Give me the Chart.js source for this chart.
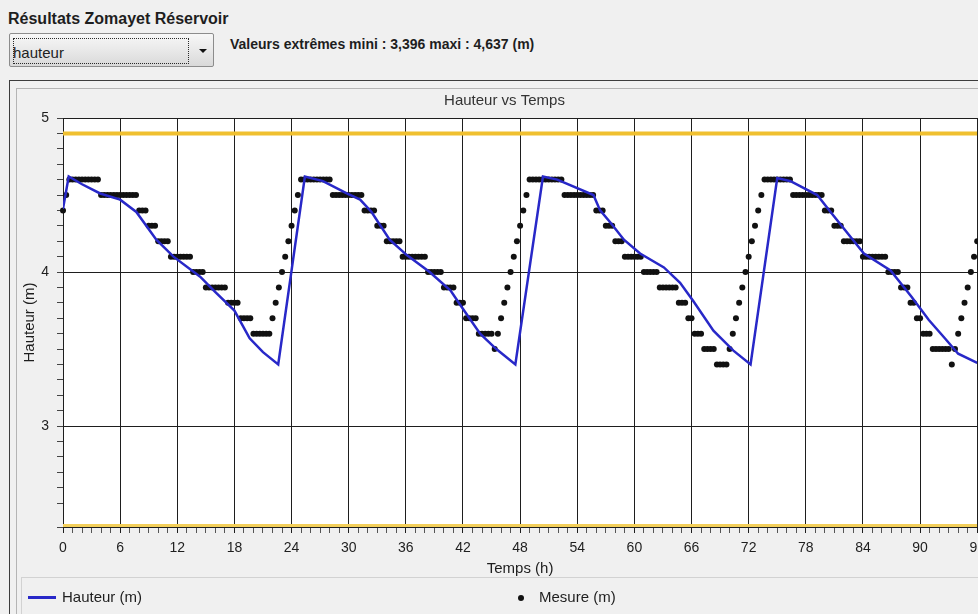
<!DOCTYPE html>
<html lang="fr">
<head>
<meta charset="utf-8">
<title>Résultats Zomayet Réservoir</title>
<script src="https://cdn.jsdelivr.net/npm/chart.js@4.4.1/dist/chart.umd.min.js"></script>
<style>
    html, body {
        margin: 0;
        padding: 0;
        width: 978px;
        height: 614px;
        overflow: hidden;
        background: #f0f0f0;
        font-family: "Liberation Sans", Arial, sans-serif;
        color: #1e1e1e;
    }
    #titre { position: absolute; left: 8px; top: 10px; font-weight: bold; font-size: 16px; }
    #combo {
        position: absolute; left: 9px; top: 33px; width: 205px; height: 34px;
        box-sizing: border-box; border: 1px solid #8c8c8c; border-radius: 2px;
        background: linear-gradient(#f7f7f7, #e9e9e9 50%, #d9d9d9);
    }
    #combo .focus {
        position: absolute; left: 3px; top: 4px; width: 176px; height: 26px;
        box-sizing: border-box; border: 1px dotted #2a2a2a;
    }
    #combo span { position: absolute; left: 3px; top: 10px; font-size: 15px; }
    #combo .fleche {
        position: absolute; left: 189px; top: 15px; width: 0; height: 0;
        border-left: 4px solid transparent; border-right: 4px solid transparent; border-top: 4px solid #111;
    }
    #extremes { position: absolute; left: 230px; top: 36px; font-weight: bold; font-size: 14px; }
    #cadre {
        position: absolute; left: 9px; top: 80px; width: 1000px; height: 600px;
        border-top: 1px solid #3c3c3c; border-left: 1px solid #3c3c3c;
    }
    #graphe {
        position: absolute; left: 16px; top: 88px; width: 1000px; height: 600px;
        border-top: 1px solid #b4b4b4; border-left: 1px solid #b4b4b4;
    }
    #zone { position: absolute; left: 17px; top: 89px; width: 975px; height: 489px; }
    #legende {
        position: absolute; left: 21px; top: 577px; width: 1000px; height: 40px;
        border-top: 1px solid #d2d2d2; border-left: 1px solid #d2d2d2;
        font-size: 15px;
    }
    .item { position: absolute; top: 10px; line-height: 18px; }
    .trait { position: absolute; left: 6px; top: 18px; width: 28px; height: 3px; background: #2828c8; }
    .point { position: absolute; left: 496px; top: 17px; width: 6px; height: 6px; border-radius: 50%; background: #111; }
</style>
</head>
<body>
<div id="titre">Résultats Zomayet Réservoir</div>
<div id="combo"><div class="focus"></div><span>hauteur</span><div class="fleche"></div></div>
<div id="extremes">Valeurs extrêmes mini : 3,396 maxi : 4,637 (m)</div>
<div id="cadre"></div>
<div id="graphe"></div>
<div id="zone"><canvas id="hauteurChart" width="975" height="489"></canvas></div>
<div id="legende">
    <div class="trait"></div>
    <div class="item" style="left:40px">Hauteur (m)</div>
    <div class="point"></div>
    <div class="item" style="left:517px">Mesure (m)</div>
</div>
<script>
// Hauteur calculée : temps (h) et hauteur (m)
const tempsHauteur = [0, 0.6, 2.0, 3.9, 6.0, 7.7, 9.8, 11.6, 14.4, 16.0, 18.0, 19.6, 21.0, 22.6,
    25.4, 27.3, 29.8, 31.2, 32.4, 34.3, 36.1, 38.5, 40.7, 41.9, 43.8, 45.5, 47.5,
    50.4, 51.9, 55.7, 56.4, 57.5, 58.9, 60.6, 63.1, 64.8, 66.2, 68.3, 70.4, 72.2,
    75.0, 76.4, 79.2, 80.6, 84.1, 86.9, 89.1, 90.9, 92.6, 94.0, 96.0];
const hauteur = [4.41, 4.62, 4.57, 4.51, 4.47, 4.39, 4.21, 4.10, 3.97, 3.87, 3.75, 3.57, 3.48, 3.40,
    4.62, 4.59, 4.51, 4.47, 4.39, 4.21, 4.11, 4.00, 3.88, 3.77, 3.60, 3.50, 3.40,
    4.62, 4.60, 4.50, 4.40, 4.32, 4.21, 4.12, 4.03, 3.93, 3.81, 3.62, 3.49, 3.40,
    4.61, 4.59, 4.50, 4.39, 4.12, 4.01, 3.84, 3.69, 3.57, 3.47, 3.41];

// Mesures relevées toutes les 20 minutes (m)
const pasMesure = 1 / 3;
const mesure = [
    4.4, 4.5, 4.6, 4.6, 4.6, 4.6, 4.6, 4.6, 4.6, 4.6, 4.6, 4.6, 4.5, 4.5, 4.5, 4.5, 4.5, 4.5,
    4.5, 4.5, 4.5, 4.5, 4.5, 4.5, 4.4, 4.4, 4.4, 4.3, 4.3, 4.3, 4.2, 4.2, 4.2, 4.2, 4.1, 4.1,
    4.1, 4.1, 4.1, 4.1, 4.1, 4.0, 4.0, 4.0, 4.0, 3.9, 3.9, 3.9, 3.9, 3.9, 3.9, 3.9, 3.8, 3.8,
    3.8, 3.8, 3.7, 3.7, 3.7, 3.7, 3.6, 3.6, 3.6, 3.6, 3.6, 3.6, 3.7, 3.8, 3.9, 4.0, 4.1, 4.2,
    4.3, 4.4, 4.5, 4.6, 4.6, 4.6, 4.6, 4.6, 4.6, 4.6, 4.6, 4.6, 4.6, 4.5, 4.5, 4.5, 4.5, 4.5,
    4.5, 4.5, 4.5, 4.5, 4.5, 4.4, 4.4, 4.4, 4.4, 4.3, 4.3, 4.3, 4.2, 4.2, 4.2, 4.2, 4.2, 4.1,
    4.1, 4.1, 4.1, 4.1, 4.1, 4.1, 4.1, 4.0, 4.0, 4.0, 4.0, 4.0, 3.9, 3.9, 3.9, 3.9, 3.8, 3.8,
    3.8, 3.7, 3.7, 3.7, 3.7, 3.6, 3.6, 3.6, 3.6, 3.6, 3.5, 3.6, 3.7, 3.8, 3.9, 4.0, 4.1, 4.2,
    4.3, 4.4, 4.5, 4.6, 4.6, 4.6, 4.6, 4.6, 4.6, 4.6, 4.6, 4.6, 4.6, 4.6, 4.5, 4.5, 4.5, 4.5,
    4.5, 4.5, 4.5, 4.5, 4.5, 4.5, 4.4, 4.4, 4.4, 4.3, 4.3, 4.3, 4.2, 4.2, 4.2, 4.1, 4.1, 4.1,
    4.1, 4.1, 4.1, 4.0, 4.0, 4.0, 4.0, 4.0, 3.9, 3.9, 3.9, 3.9, 3.9, 3.9, 3.8, 3.8, 3.8, 3.7,
    3.7, 3.6, 3.6, 3.6, 3.5, 3.5, 3.5, 3.5, 3.4, 3.4, 3.4, 3.4, 3.5, 3.6, 3.7, 3.8, 3.9, 4.0,
    4.1, 4.2, 4.3, 4.4, 4.5, 4.6, 4.6, 4.6, 4.6, 4.6, 4.6, 4.6, 4.6, 4.6, 4.5, 4.5, 4.5, 4.5,
    4.5, 4.5, 4.5, 4.5, 4.5, 4.5, 4.4, 4.4, 4.4, 4.3, 4.3, 4.3, 4.2, 4.2, 4.2, 4.2, 4.2, 4.2,
    4.1, 4.1, 4.1, 4.1, 4.1, 4.1, 4.1, 4.1, 4.0, 4.0, 4.0, 4.0, 3.9, 3.9, 3.9, 3.8, 3.8, 3.7,
    3.7, 3.6, 3.6, 3.6, 3.5, 3.5, 3.5, 3.5, 3.5, 3.5, 3.4, 3.5, 3.6, 3.7, 3.8, 3.9, 4.0, 4.1,
    4.2
];

// Niveaux limites du réservoir (m)
const niveauMax = 4.9;
const niveauMin = 2.355;

// Axes
const tempsMax = 96;
const xTickLabels = [0, 6, 12, 18, 24, 30, 36, 42, 48, 54, 60, 66, 72, 78, 84, 90, 96];
const yTickLabels = [3, 4, 5];

const police = { family: '"Liberation Sans", Arial, sans-serif', size: 15 };
const policeTicks = { family: '"Liberation Sans", Arial, sans-serif', size: 14 };
const noir = '#1e1e1e';

function estMajeurY(v) {
    return yTickLabels.some(t => Math.abs(t - v) < 1e-6);
}

const fondBlanc = {
    id: 'fondBlanc',
    beforeDraw(chart) {
        const { ctx, chartArea: a } = chart;
        ctx.save();
        ctx.fillStyle = '#ffffff';
        ctx.fillRect(a.left, a.top, a.right - a.left, a.bottom - a.top);
        ctx.restore();
    }
};

const ctx = document.getElementById('hauteurChart').getContext('2d');
new Chart(ctx, {
    type: 'line',
    data: {
        datasets: [
            {
                label: 'Hauteur (m)',
                data: tempsHauteur.map((t, i) => ({ x: t, y: hauteur[i] })),
                borderColor: '#2828c8',
                borderWidth: 2.5,
                pointRadius: 0,
                tension: 0,
                order: 0
            },
            {
                label: 'Mesure (m)',
                data: mesure.map((v, i) => ({ x: i * pasMesure, y: v })),
                showLine: false,
                pointRadius: 3,
                pointBorderWidth: 0,
                pointBackgroundColor: '#111',
                borderColor: '#111',
                clip: false,
                order: 1
            },
            {
                label: 'Niveau max',
                data: [{ x: 0, y: niveauMax }, { x: tempsMax, y: niveauMax }],
                borderColor: '#f0c030',
                borderWidth: 4,
                pointRadius: 0,
                order: 2
            },
            {
                label: 'Niveau min',
                data: [{ x: 0, y: niveauMin }, { x: tempsMax, y: niveauMin }],
                borderColor: '#f3cf5a',
                borderWidth: 3,
                pointRadius: 0,
                order: 2
            }
        ]
    },
    options: {
        responsive: false,
        animation: false,
        layout: { padding: 0 },
        scales: {
            x: {
                type: 'linear',
                min: 0,
                max: tempsMax,
                afterFit(scale) { scale.height = 51; },
                ticks: {
                    stepSize: 1,
                    autoSkip: false,
                    maxRotation: 0,
                    padding: 7,
                    color: noir,
                    font: policeTicks,
                    callback: v => xTickLabels.includes(v) ? String(v) : ''
                },
                grid: {
                    color: c => xTickLabels.includes(c.tick.value) ? noir : 'rgba(0,0,0,0)',
                    tickColor: c => xTickLabels.includes(c.tick.value) ? noir : '#555',
                    tickLength: 6,
                    lineWidth: 1
                },
                border: { color: noir },
                title: {
                    display: true,
                    text: 'Temps (h)',
                    color: noir,
                    font: police,
                    padding: { top: 2, bottom: 0 }
                }
            },
            y: {
                type: 'linear',
                min: 2.345,
                max: 5,
                afterFit(scale) { scale.width = 46; },
                ticks: {
                    stepSize: 0.1,
                    autoSkip: false,
                    padding: 8,
                    color: noir,
                    font: policeTicks,
                    callback: v => estMajeurY(v) ? String(Math.round(v)) : ''
                },
                grid: {
                    color: c => estMajeurY(c.tick.value) ? noir : 'rgba(0,0,0,0)',
                    tickColor: '#444',
                    tickLength: 6,
                    lineWidth: 1
                },
                border: { color: noir },
                title: {
                    display: true,
                    text: 'Hauteur (m)',
                    color: noir,
                    font: police,
                    padding: { top: 3.5, bottom: 0 }
                }
            }
        },
        plugins: {
            legend: { display: false },
            tooltip: { enabled: false },
            title: {
                display: true,
                text: 'Hauteur vs Temps',
                color: '#333',
                font: { family: police.family, size: 15, weight: 'normal' },
                padding: { top: 2.5, bottom: 8.5 }
            }
        }
    },
    plugins: [fondBlanc]
});
</script>
</body>
</html>
